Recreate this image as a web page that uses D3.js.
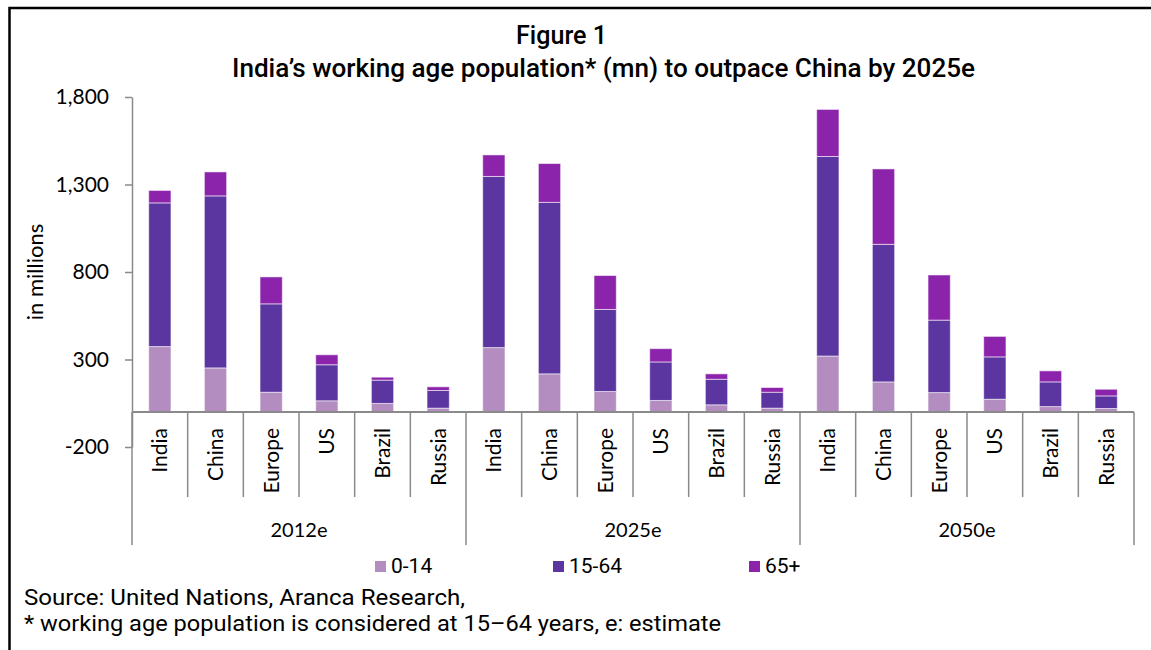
<!DOCTYPE html>
<html>
<head>
<meta charset="utf-8">
<script src="https://cdn.jsdelivr.net/npm/d3@7"></script>
<style>
  html, body { margin: 0; padding: 0; background: #fff; }
  svg { display: block; }
</style>
</head>
<body>
<svg id="chart" width="1151" height="650"></svg>
<script>
// Population by age band (millions), three horizons, six economies each
const groups = ["2012e", "2025e", "2050e"];
const countries = ["India", "China", "Europe", "US", "Brazil", "Russia"];
const seriesKeys = ["0-14", "15-64", "65+"];
const age0to14  = [374, 252, 113, 64, 49, 22,   368, 218, 117, 66, 41, 22,   320, 172, 111, 73, 31, 20];
const age15to64 = [821, 983, 505, 206, 133, 101, 978, 980, 469, 220, 146, 91, 1140, 786, 414, 242, 141, 72];
const age65plus = [71, 137, 154, 57, 17, 21,     123, 222, 194, 76, 31, 27,  269, 431, 258, 117, 63, 38];
const yTicks = [-200, 300, 800, 1300, 1800];
const titleLine1 = "Figure 1";
const titleLine2 = "India\u2019s working age population* (mn) to outpace China by 2025e";
const sourceLine = "Source: United Nations, Aranca Research,";
const noteLine = "* working age population is considered at 15\u201364 years, e: estimate";

const colors = { "0-14": "#b38dc0", "15-64": "#5b35a0", "65+": "#8b24ab" };

// Flatten into one row per bar
const rows = [];
groups.forEach((g, gi) => {
  countries.forEach((c, ci) => {
    const i = gi * countries.length + ci;
    rows.push({ key: g + "|" + c, group: g, country: c,
      "0-14": age0to14[i], "15-64": age15to64[i], "65+": age65plus[i] });
  });
});

const svg = d3.select("#chart");
const axisColor = "#8a8a8a";
const axisFont = "Lato, 'Open Sans', sans-serif";
const textFont = "Roboto, 'Noto Sans', sans-serif";

const left = 132, right = 1134;
const x = d3.scaleBand().domain(rows.map(d => d.key)).range([left, right]).padding(0);
const y = d3.scaleLinear().domain([-200, 1800]).range([447, 97]);
const barW = x.bandwidth() * 0.4;

// Frame
svg.append("path")
  .attr("d", "M9.5,650 V8 H1151")
  .attr("fill", "none").attr("stroke", "#000").attr("stroke-width", 2.5);

// Title
svg.append("text").attr("x", 516).attr("y", 44)
  .attr("font-family", textFont).attr("font-weight", 500).attr("font-size", 25)
  .attr("textLength", 91).attr("lengthAdjust", "spacingAndGlyphs").attr("fill", "#000")
  .text(titleLine1);
svg.append("text").attr("x", 232).attr("y", 77)
  .attr("font-family", textFont).attr("font-weight", 500).attr("font-size", 25)
  .attr("textLength", 743).attr("lengthAdjust", "spacingAndGlyphs").attr("fill", "#000")
  .text(titleLine2);

// Stacked bars
const stack = d3.stack().keys(seriesKeys);
const layers = stack(rows);
svg.append("g").selectAll("g")
  .data(layers).join("g")
  .attr("fill", d => colors[d.key])
  .selectAll("rect")
  .data(d => d).join("rect")
  .attr("x", d => x(d.data.key) + (x.bandwidth() - barW) / 2)
  .attr("width", barW)
  .attr("y", d => y(d[1]))
  .attr("height", d => y(d[0]) - y(d[1]))
  .attr("stroke", "rgba(255,255,255,0.55)")
  .attr("stroke-width", 1);

// Value axis (plain hyphen for negatives)
const fmt = d3.format(",");
const yAxis = svg.append("g")
  .attr("transform", `translate(${left},0)`)
  .call(d3.axisLeft(y).tickValues(yTicks).tickFormat(d => fmt(d).replace("\u2212", "-"))
    .tickSize(7).tickSizeOuter(0).tickPadding(16));
yAxis.select(".domain").attr("stroke", axisColor).attr("stroke-width", 1.5);
yAxis.selectAll(".tick line").attr("stroke", axisColor).attr("stroke-width", 1.5);
yAxis.selectAll(".tick text").attr("font-family", axisFont).attr("font-size", 21).attr("fill", "#000");

svg.append("text")
  .attr("transform", `translate(35,272) rotate(-90)`)
  .attr("text-anchor", "middle").attr("dy", "0.35em")
  .attr("font-family", axisFont).attr("font-size", 22).attr("fill", "#000")
  .text("in millions");

// Category axis at zero
const y0 = y(0);
svg.append("line")
  .attr("x1", left).attr("x2", right).attr("y1", y0).attr("y2", y0)
  .attr("stroke", axisColor).attr("stroke-width", 2);

const seps = d3.range(rows.length + 1);
svg.append("g").selectAll("line")
  .data(seps).join("line")
  .attr("x1", i => left + i * x.bandwidth())
  .attr("x2", i => left + i * x.bandwidth())
  .attr("y1", y0)
  .attr("y2", i => i % countries.length === 0 ? 545 : 497)
  .attr("stroke", axisColor).attr("stroke-width", 1.5);

svg.append("g").selectAll("text")
  .data(rows).join("text")
  .attr("transform", d => `translate(${x(d.key) + x.bandwidth() / 2},428) rotate(-90)`)
  .attr("text-anchor", "end").attr("dy", "0.35em")
  .attr("font-family", axisFont).attr("font-size", 21).attr("fill", "#000")
  .text(d => d.country);

svg.append("g").selectAll("text")
  .data(groups).join("text")
  .attr("x", (g, gi) => left + (gi + 0.5) * countries.length * x.bandwidth())
  .attr("y", 537)
  .attr("text-anchor", "middle")
  .attr("font-family", axisFont).attr("font-size", 20).attr("fill", "#000")
  .text(g => g);

// Legend
const legendX = [375, 553, 749];
const legend = svg.append("g").selectAll("g")
  .data(seriesKeys).join("g")
  .attr("transform", (k, i) => `translate(${legendX[i]},0)`);
legend.append("rect").attr("x", 0).attr("y", 561).attr("width", 11).attr("height", 11)
  .attr("fill", k => colors[k]);
legend.append("text").attr("x", 16).attr("y", 573)
  .attr("font-family", textFont).attr("font-size", 21).attr("fill", "#000")
  .text(k => k);

// Footnotes
svg.append("text").attr("x", 24).attr("y", 605)
  .attr("font-family", textFont).attr("font-size", 22)
  .attr("textLength", 441).attr("lengthAdjust", "spacingAndGlyphs").attr("fill", "#000")
  .text(sourceLine);
svg.append("text").attr("x", 24).attr("y", 631)
  .attr("font-family", textFont).attr("font-size", 22)
  .attr("textLength", 697).attr("lengthAdjust", "spacingAndGlyphs").attr("fill", "#000")
  .text(noteLine);
</script>
</body>
</html>
